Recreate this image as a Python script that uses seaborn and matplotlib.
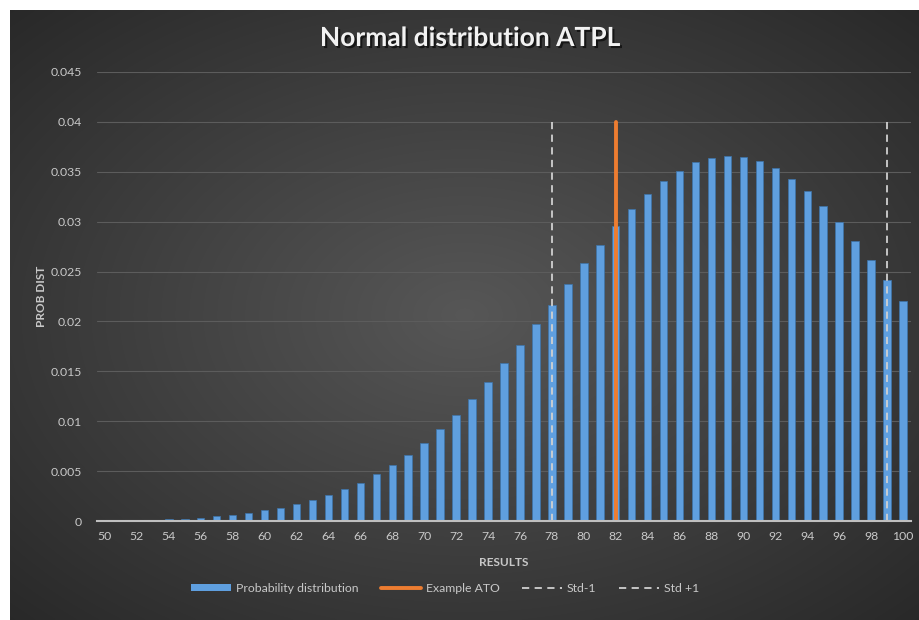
import numpy as np
import pandas as pd
import matplotlib
matplotlib.use("Agg")
import matplotlib.pyplot as plt
import matplotlib.patheffects as pe
from matplotlib.patches import Patch
from matplotlib.lines import Line2D
import seaborn as sns

# ---- data ----
results = list(range(50, 101))
prob_dist = [0.00005, 0.00007, 0.0001, 0.00013, 0.0002, 0.00025, 0.0003, 0.00047,
             0.00064, 0.00084, 0.00107, 0.00127, 0.00167, 0.0021, 0.0026, 0.0032,
             0.00385, 0.0047, 0.0056, 0.0066, 0.00785, 0.0092, 0.0106, 0.0122,
             0.01396, 0.0158, 0.01764, 0.01974, 0.0216, 0.02375, 0.02582, 0.02766,
             0.02956, 0.03126, 0.03274, 0.03407, 0.0351, 0.03594, 0.0364, 0.03655,
             0.03645, 0.03604, 0.03534, 0.03427, 0.03304, 0.03156, 0.02993, 0.02806,
             0.02612, 0.02418, 0.02208]
example_ato = 82
std_minus = 78
std_plus = 99
marker_top = 0.04
y_ticks = [0, 0.005, 0.01, 0.015, 0.02, 0.025, 0.03, 0.035, 0.04, 0.045]
y_tick_labels = ["0", "0.005", "0.01", "0.015", "0.02", "0.025", "0.03", "0.035", "0.04", "0.045"]

df = pd.DataFrame({"RESULTS": results, "PROB DIST": prob_dist})

sns.set_style("dark")
plt.rcParams["font.family"] = ["Lato", "DejaVu Sans"]

W, H = 920, 620
fig = plt.figure(figsize=(W / 100, H / 100), dpi=100, facecolor="white")

# dark radial-gradient panel background
bg = fig.add_axes([10 / W, 0, (W - 10) / W, (H - 10) / H], zorder=-10)
yy, xx = np.mgrid[-1:1:300j, -1:1:450j]
r = np.sqrt(xx ** 2 + yy ** 2) / np.sqrt(2)
grad = 0.34 - 0.18 * r
bg.imshow(np.dstack([grad, grad, grad]), aspect="auto", extent=[0, 1, 0, 1],
          interpolation="bicubic")
bg.set_axis_off()

ax = fig.add_axes([97 / W, 1 - 521 / H, (911 - 97) / W, (521 - 72) / H])
ax.set_facecolor((0, 0, 0, 0))

bar_color = "#5f9fdf"
sns.barplot(data=df, x="RESULTS", y="PROB DIST", color=bar_color, ax=ax,
            width=0.47, saturation=1, edgecolor="#3d74aa", linewidth=0.5, zorder=3)

pos = {v: i for i, v in enumerate(results)}
line_col = "#d0d0d0"
ax.plot([pos[std_minus]] * 2, [0, marker_top], color=line_col, lw=1.3,
        dashes=(4, 3), zorder=4)
ax.plot([pos[example_ato]] * 2, [0, marker_top], color="#ed7d31", lw=2.8, zorder=5)
ax.plot([pos[std_plus]] * 2, [0, marker_top], color=line_col, lw=1.3,
        dashes=(4, 3), zorder=4)

ax.set_xlim(-0.5, len(results) - 0.5)
ax.set_ylim(0, 0.045)
ax.set_yticks(y_ticks)
ax.set_yticklabels(y_tick_labels)
ax.set_xticks([pos[v] for v in results if v % 2 == 0])
ax.set_xticklabels([str(v) for v in results if v % 2 == 0])

tick_col = "#c8c8c8"
ax.tick_params(axis="both", colors=tick_col, labelsize=8.8, length=0)
ax.tick_params(axis="x", pad=7)
ax.tick_params(axis="y", pad=11)
ax.yaxis.grid(True, color="#5c5c5c", lw=0.8, zorder=0)
ax.xaxis.grid(False)
for s in ["top", "right", "left"]:
    ax.spines[s].set_visible(False)
ax.spines["bottom"].set_color("#bfbfbf")
ax.spines["bottom"].set_linewidth(1.5)
ax.spines["bottom"].set_zorder(6)

ax.set_xlabel("RESULTS", color=tick_col, fontsize=8.5, fontweight="bold", labelpad=11)
ax.set_ylabel("PROB DIST", color=tick_col, fontsize=8.5, fontweight="bold")
ax.yaxis.set_label_coords(-0.062, 0.5)

fig.text(470 / W, 1 - 38 / H, "Normal distribution ATPL", ha="center", va="center",
         fontsize=19, fontweight="bold", color="#f2f2f2",
         path_effects=[pe.withSimplePatchShadow(offset=(1.5, -1.5), shadow_rgbFace="black",
                                                 alpha=0.6)])

handles = [
    Patch(facecolor=bar_color, edgecolor="none"),
    Line2D([0], [0], color="#ed7d31", lw=2.8),
    Line2D([0], [0], color=line_col, lw=1.3, dashes=(4, 3)),
    Line2D([0], [0], color=line_col, lw=1.3, dashes=(4, 3)),
]
labels = ["Probability distribution", "Example ATO", "Std-1", "Std +1"]
leg = fig.legend(handles, labels, loc="center", bbox_to_anchor=(445 / W, 1 - 588 / H),
                 ncol=4, frameon=False, fontsize=8.8, handlelength=3.3,
                 handleheight=0.5, columnspacing=1.8, handletextpad=0.4)
for t in leg.get_texts():
    t.set_color(tick_col)

fig.savefig("out.png", dpi=100, facecolor=fig.get_facecolor())
